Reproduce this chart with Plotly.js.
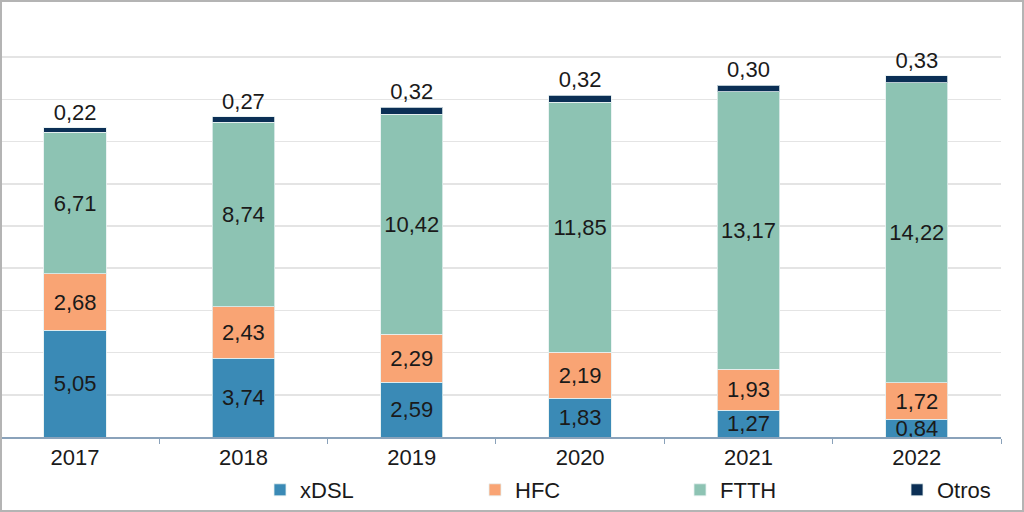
<!DOCTYPE html>
<html><head><meta charset="utf-8">
<script src="https://cdn.plot.ly/plotly-3.0.1.min.js"></script>
<style>
html,body{margin:0;padding:0;background:#fff;}
#wrap{position:relative;width:1024px;height:512px;}
#chart{width:1024px;height:512px;}
#frame{position:absolute;left:0;top:0;width:1024px;height:512px;box-sizing:border-box;border:2px solid #b4b4b4;pointer-events:none;}
</style></head>
<body><div id="wrap"><div id="chart"></div><div id="frame"></div></div>
<script>
const years = ['2017','2018','2019','2020','2021','2022'];
const xdsl = [5.05, 3.74, 2.59, 1.83, 1.27, 0.84];
const hfc = [2.68, 2.43, 2.29, 2.19, 1.93, 1.72];
const ftth = [6.71, 8.74, 10.42, 11.85, 13.17, 14.22];
const otros = [0.22, 0.27, 0.32, 0.32, 0.30, 0.33];

const font = 'Liberation Sans, Arial, sans-serif';
function tr(name, vals, color, pos, lg){
  return {type:'bar', name:name, x:years, y:vals, legend:lg,
    marker:{color:color, line:{color:'rgba(230,240,240,0.8)', width:1}},
    width:0.37,
    texttemplate:'%{y:.2f}', textposition:pos, insidetextanchor:'middle',
    constraintext:'none', cliponaxis:false,
    textfont:{family:font, size:22, color:'#1a1a1a'},
    hoverinfo:'skip'};
}
const data = [
  tr('xDSL', xdsl, '#3a8ab6', 'inside', 'legend'),
  tr('HFC', hfc, '#f9a474', 'inside', 'legend2'),
  tr('FTTH', ftth, '#8dc3b3', 'inside', 'legend3'),
  tr('Otros', otros, '#0b2f55', 'outside', 'legend4')
];
function lg(xpx){
  return {orientation:'h', xref:'container', yref:'container', x:(xpx-38)/1024, xanchor:'left',
    y:1-490/512, yanchor:'middle', bgcolor:'rgba(0,0,0,0)',
    font:{family:font, size:22, color:'#1a1a1a'}};
}
const layout = {
  width:1024, height:512,
  margin:{l:0, r:23, t:15, b:75},
  barmode:'stack', separators:',.',
  paper_bgcolor:'#fff', plot_bgcolor:'#fff',
  font:{family:font, size:22, color:'#1a1a1a'},
  xaxis:{type:'category', range:[-0.446, 5.5], showline:true, linecolor:'#8aa2ba', linewidth:1.5,
    ticks:'outside', tickson:'boundaries', ticklen:5, tickcolor:'#8aa2ba',
    tickfont:{family:font, size:22, color:'#1a1a1a'}, showgrid:false},
  yaxis:{range:[0,20], dtick:2, showgrid:true, gridcolor:'#e4e4e4', gridwidth:1.5,
    showticklabels:false, zeroline:false, showline:false, ticks:''},
  showlegend:true,
  legend:lg(298), legend2:lg(513), legend3:lg(718), legend4:lg(935)
};
Plotly.newPlot('chart', data, layout, {staticPlot:true});
</script></body></html>
